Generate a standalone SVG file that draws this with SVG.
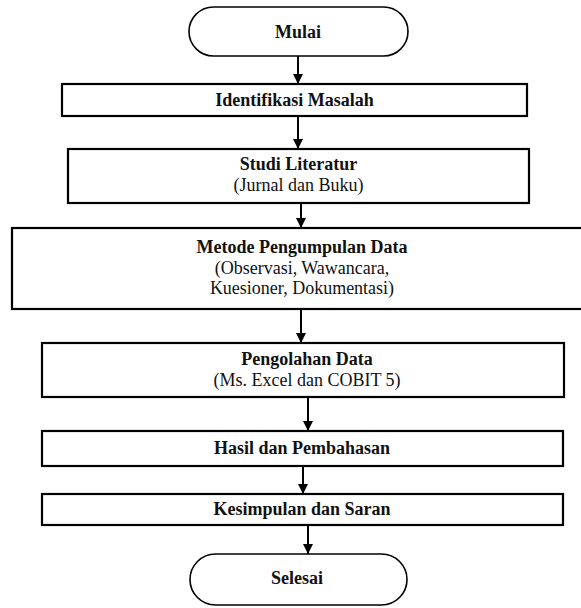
<svg xmlns="http://www.w3.org/2000/svg" width="581" height="608" viewBox="0 0 581 608">
<defs>
<style>
.box{fill:#fff;stroke:#000;stroke-width:2.2}
.term{fill:#fff;stroke:#000;stroke-width:1.6}
.b{font-family:"Liberation Serif","Times New Roman",serif;font-size:18px;font-weight:bold;fill:#111;text-anchor:middle}
.r{font-family:"Liberation Serif","Times New Roman",serif;font-size:18px;fill:#111;text-anchor:middle}
.conn{stroke:#000;stroke-width:2;fill:none}
</style>
<marker id="ah" markerWidth="10" markerHeight="10" refX="10" refY="5" orient="auto" markerUnits="userSpaceOnUse">
<path d="M0,0 L10,5 L0,10 Z" fill="#000"/>
</marker>
</defs>
<rect width="581" height="608" fill="#fff"/>
<g id="connectors">
<line class="conn" x1="298" y1="56" x2="298" y2="84" marker-end="url(#ah)"/>
<line class="conn" x1="298" y1="116" x2="298" y2="149" marker-end="url(#ah)"/>
<line class="conn" x1="301" y1="203" x2="301" y2="228" marker-end="url(#ah)"/>
<line class="conn" x1="301" y1="309" x2="301" y2="343" marker-end="url(#ah)"/>
<line class="conn" x1="308" y1="397" x2="308" y2="431" marker-end="url(#ah)"/>
<line class="conn" x1="303" y1="466" x2="303" y2="494" marker-end="url(#ah)"/>
<line class="conn" x1="308" y1="525" x2="308" y2="554" marker-end="url(#ah)"/>
</g>
<g id="mulai">
<rect class="term" x="189" y="7" width="219" height="49" rx="24.5" ry="24.5"/>
<text class="b" x="298" y="38">Mulai</text>
</g>
<g id="identifikasi">
<rect class="box" x="62" y="84" width="465" height="32"/>
<text class="b" x="294.5" y="106">Identifikasi Masalah</text>
</g>
<g id="studi">
<rect class="box" x="68" y="149" width="461" height="54"/>
<text class="b" x="298.5" y="170">Studi Literatur</text>
<text class="r" x="298.5" y="191">(Jurnal dan Buku)</text>
</g>
<g id="metode">
<rect class="box" x="12" y="228" width="580" height="81"/>
<text class="b" x="302" y="253">Metode Pengumpulan Data</text>
<text class="r" x="302" y="274">(Observasi, Wawancara,</text>
<text class="r" x="302" y="294">Kuesioner, Dokumentasi)</text>
</g>
<g id="pengolahan">
<rect class="box" x="42" y="343" width="522" height="54"/>
<text class="b" x="307" y="365">Pengolahan Data</text>
<text class="r" x="307" y="386">(Ms. Excel dan COBIT 5)</text>
</g>
<g id="hasil">
<rect class="box" x="42" y="431" width="521" height="35"/>
<text class="b" x="302" y="454">Hasil dan Pembahasan</text>
</g>
<g id="kesimpulan">
<rect class="box" x="42" y="494" width="521" height="31"/>
<text class="b" x="302" y="515">Kesimpulan dan Saran</text>
</g>
<g id="selesai">
<rect class="term" x="190" y="554" width="217" height="51" rx="25.5" ry="25.5"/>
<text class="b" x="297" y="584">Selesai</text>
</g>
</svg>
